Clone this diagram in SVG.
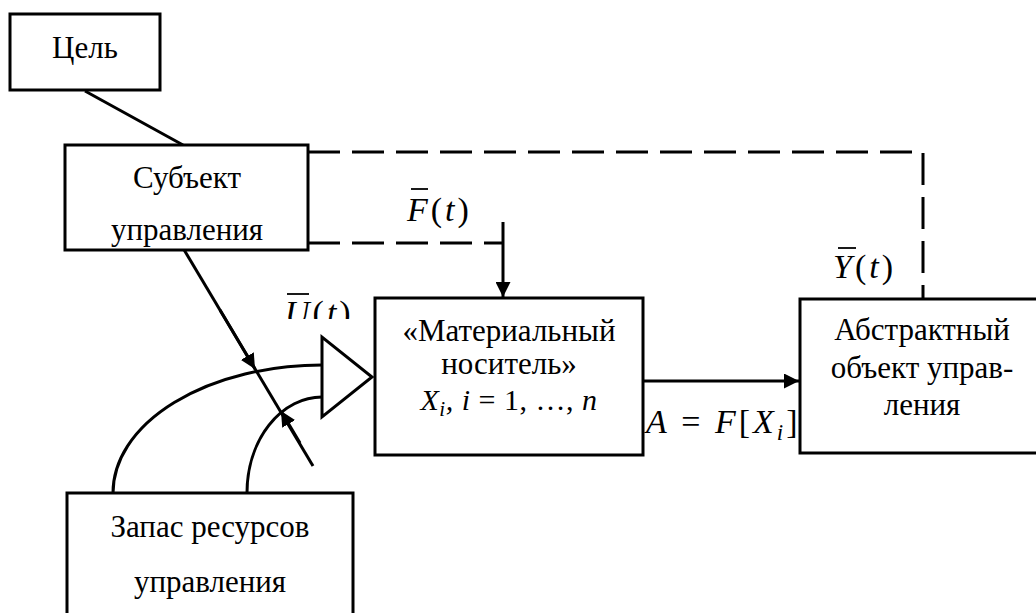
<svg xmlns="http://www.w3.org/2000/svg" width="1036" height="613" viewBox="0 0 1036 613">
<defs>
<style>
.box{fill:#fff;stroke:#000;stroke-width:3}
.ln{fill:none;stroke:#000;stroke-width:3}
.dash{fill:none;stroke:#000;stroke-width:3;stroke-dasharray:32 12}
.t{font-family:'Liberation Serif','DejaVu Serif',serif;font-size:31px;fill:#000;text-anchor:middle}
.m{font-family:'Liberation Serif','DejaVu Serif',serif;font-size:34px;fill:#000;font-style:italic;letter-spacing:3px}
.bar{stroke:#000;stroke-width:1.8}
</style>
<marker id="ah" viewBox="0 0 10 10" refX="10" refY="5" markerWidth="5" markerHeight="5" markerUnits="strokeWidth" orient="auto">
<path d="M0,0 L10,5 L0,10 z" fill="#000"/>
</marker>
<clipPath id="uclip"><rect x="270" y="280" width="100" height="39"/></clipPath>
</defs>

<g id="connectors">
<line class="ln" x1="85" y1="91" x2="183" y2="145"/>
<polyline class="dash" points="308,152 923,152 923,299"/>
<polyline class="dash" points="308,243 503,243"/>
<line class="ln" x1="503" y1="222" x2="503" y2="297" marker-end="url(#ah)"/>
<line class="ln" x1="643" y1="381" x2="799" y2="381" marker-end="url(#ah)"/>
<path class="ln" d="M113,493 A209,128 0 0 1 322,365"/>
<path class="ln" d="M247,493 A75,96 0 0 1 322,397"/>
<line class="ln" x1="183" y1="248" x2="313" y2="466"/>
<line class="ln" x1="220" y1="310" x2="255" y2="369" marker-end="url(#ah)"/>
<line class="ln" x1="300" y1="443" x2="281" y2="411" marker-end="url(#ah)"/>
</g>

<g id="tsel">
<rect class="box" x="10" y="14" width="150" height="76"/>
<text class="t" x="85" y="58">Цель</text>
</g>

<g id="subject">
<rect class="box" x="65" y="145" width="243" height="105"/>
<text class="t" x="187" y="188">Субъект</text>
<text class="t" x="187" y="240">управления</text>
</g>

<g id="material">
<rect class="box" x="375" y="298" width="268" height="157"/>
<text class="t" x="509" y="341">«Материальный</text>
<text class="t" x="509" y="374">носитель»</text>
<text class="m" x="509" y="410" style="font-size:30px;letter-spacing:0.5px;text-anchor:middle">X<tspan font-size="21" dy="6">i</tspan><tspan dy="-6">, i</tspan><tspan font-style="normal"> = 1, …, </tspan>n</text>
</g>

<g id="abstract">
<rect class="box" x="800" y="299" width="240" height="154"/>
<text class="t" x="922" y="340">Абстрактный</text>
<text class="t" x="922" y="378">объект управ-</text>
<text class="t" x="922" y="415">ления</text>
</g>

<g id="resources">
<rect class="box" x="67" y="493" width="286" height="130"/>
<text class="t" x="210" y="537">Запас ресурсов</text>
<text class="t" x="210" y="592">управления</text>
</g>

<g id="amplifier">
<polygon class="box" points="322,337 322,417 372,377"/>
</g>

<g id="labels">
<text class="m" x="407" y="221">F<tspan font-style="normal">(</tspan>t<tspan font-style="normal">)</tspan></text>
<line class="bar" x1="411" y1="189" x2="428" y2="189"/>
<text class="m" x="833" y="278">Y<tspan font-style="normal">(</tspan>t<tspan font-style="normal">)</tspan></text>
<line class="bar" x1="838" y1="248" x2="856" y2="248"/>
<g clip-path="url(#uclip)">
<text class="m" x="285" y="324">U<tspan font-style="normal">(</tspan>t<tspan font-style="normal">)</tspan></text>
<line class="bar" x1="287" y1="294" x2="309" y2="294"/>
</g>
<text class="m" x="646" y="433">A<tspan font-style="normal"> = </tspan>F<tspan font-style="normal">[</tspan>X<tspan font-size="23" dy="7">i</tspan><tspan font-style="normal" dy="-7">]</tspan></text>
</g>
</svg>
